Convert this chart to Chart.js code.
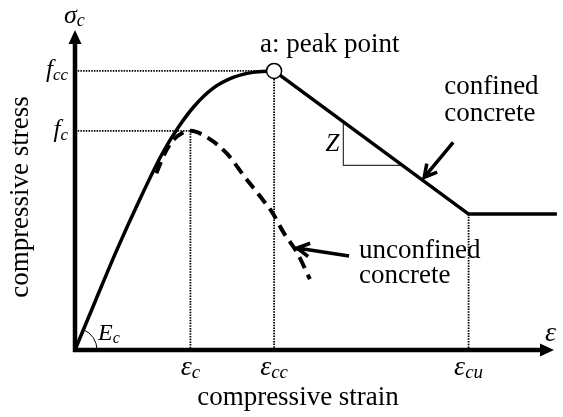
<!DOCTYPE html>
<html>
<head>
<meta charset="utf-8">
<script src="https://cdn.jsdelivr.net/npm/chart.js@4.4.1/dist/chart.umd.min.js"></script>
<style>
  body { margin: 0; background: #fff; }
  canvas { display: block; }
</style>
</head>
<body>
<canvas id="stressStrain" width="563" height="417"></canvas>
<script>
// characteristic points (strain, stress in MPa)
var epsC = 0.002, epsCC = 0.00345, epsCU = 0.00682;
var fc = 30, fcc = 38.2, fRes = 18.6;

// confined concrete, rising branch up to the peak
var confinedStrain = [0, 0.00036, 0.00072, 0.00111, 0.00152, 0.0018, 0.00207, 0.00239, 0.00274, 0.00308, epsCC];
var confinedStress = [0, 6.85, 13.6, 20.4, 27.0, 30.6, 33.4, 35.8, 37.3, 38.0, fcc];

// confined concrete, linear softening then residual plateau
var softStrain = [epsCC, epsCU, 0.00835];
var softStress = [fcc, fRes, fRes];

// unconfined concrete
var unconfStrain = [0.00141, 0.00156, 0.00171, 0.00186, epsC, 0.00231, 0.00263, 0.00294, 0.00321, 0.00342, 0.00362, 0.00385, 0.00407];
var unconfStress = [24.2, 27.0, 28.8, 29.7, fc, 29.0, 26.9, 23.7, 21.0, 18.8, 16.0, 13.3, 9.7];

// axis tick labels
var xTickValues = [epsC, epsCC, epsCU];
var xTickSubs = ['c', 'cc', 'cu'];
var yTickValues = [fcc, fc];
var yTickSubs = ['cc', 'c'];

function pts(xs, ys) {
  return xs.map(function (x, i) { return { x: x, y: ys[i] }; });
}

var SERIF = '"Liberation Serif", "Times New Roman", serif';

// italic symbol with a subscript; align = 'left' | 'center' | 'right'
function symbol(ctx, x, y, main, sub, size, align) {
  var subSize = Math.round(size * 0.68);
  ctx.font = 'italic ' + size + 'px ' + SERIF;
  var w1 = ctx.measureText(main).width;
  ctx.font = 'italic ' + subSize + 'px ' + SERIF;
  var w2 = ctx.measureText(sub).width;
  var x0 = x;
  if (align === 'center') x0 = x - (w1 + w2) / 2;
  if (align === 'right') x0 = x - (w1 + w2);
  ctx.textAlign = 'left';
  ctx.textBaseline = 'alphabetic';
  ctx.font = 'italic ' + size + 'px ' + SERIF;
  ctx.fillText(main, x0, y);
  ctx.font = 'italic ' + subSize + 'px ' + SERIF;
  ctx.fillText(sub, x0 + w1, y + size * 0.12);
}

function arrow(ctx, x1, y1, x2, y2) {
  var a = Math.atan2(y2 - y1, x2 - x1);
  var h = 14;
  ctx.beginPath();
  ctx.moveTo(x1, y1);
  ctx.lineTo(x2, y2);
  ctx.moveTo(x2 - h * Math.cos(a - 0.5), y2 - h * Math.sin(a - 0.5));
  ctx.lineTo(x2, y2);
  ctx.lineTo(x2 - h * Math.cos(a + 0.5), y2 - h * Math.sin(a + 0.5));
  ctx.stroke();
}

// stress on the softening branch at a given strain
function softAt(x) {
  return fcc + (fRes - fcc) * (x - epsCC) / (epsCU - epsCC);
}

var guides = {
  id: 'guides',
  beforeDatasetsDraw: function (chart) {
    var ctx = chart.ctx, xs = chart.scales.x, ys = chart.scales.y;
    var x0 = xs.getPixelForValue(0), y0 = ys.getPixelForValue(0);
    ctx.save();
    ctx.strokeStyle = '#000';

    // dotted projection lines
    ctx.lineWidth = 1.8;
    ctx.setLineDash([1.5, 1.2]);
    ctx.beginPath();
    ctx.moveTo(x0, ys.getPixelForValue(fcc));
    ctx.lineTo(xs.getPixelForValue(epsCC), ys.getPixelForValue(fcc));
    ctx.moveTo(x0, ys.getPixelForValue(fc));
    ctx.lineTo(xs.getPixelForValue(epsC), ys.getPixelForValue(fc));
    ctx.moveTo(xs.getPixelForValue(epsC), ys.getPixelForValue(fc));
    ctx.lineTo(xs.getPixelForValue(epsC), y0);
    ctx.moveTo(xs.getPixelForValue(epsCC), ys.getPixelForValue(fcc));
    ctx.lineTo(xs.getPixelForValue(epsCC), y0);
    ctx.moveTo(xs.getPixelForValue(epsCU), ys.getPixelForValue(fRes));
    ctx.lineTo(xs.getPixelForValue(epsCU), y0);
    ctx.stroke();
    ctx.setLineDash([]);

    // slope triangle under the softening branch
    var za = 0.00465, zb = 0.005675;
    var zx1 = xs.getPixelForValue(za), zx2 = xs.getPixelForValue(zb);
    var zy1 = ys.getPixelForValue(softAt(za)), zy2 = ys.getPixelForValue(softAt(zb));
    ctx.lineWidth = 1.2;
    ctx.strokeStyle = '#333';
    ctx.beginPath();
    ctx.moveTo(zx1, zy1);
    ctx.lineTo(zx1, zy2);
    ctx.lineTo(zx2, zy2);
    ctx.stroke();

    // initial modulus arc
    var ang = Math.atan2(ys.getPixelForValue(confinedStress[2]) - y0, xs.getPixelForValue(confinedStrain[2]) - x0);
    ctx.strokeStyle = '#000';
    ctx.lineWidth = 1;
    ctx.beginPath();
    ctx.arc(x0, y0, 22, ang, 0);
    ctx.stroke();

    // axes with arrow heads
    var xEnd = xs.getPixelForValue(xs.max), yEnd = ys.getPixelForValue(ys.max);
    ctx.lineWidth = 4.5;
    ctx.beginPath();
    ctx.moveTo(x0, y0 + 2);
    ctx.lineTo(x0, yEnd + 10);
    ctx.moveTo(x0 - 2, y0);
    ctx.lineTo(xEnd - 10, y0);
    ctx.stroke();
    ctx.fillStyle = '#000';
    ctx.beginPath();
    ctx.moveTo(x0, yEnd);
    ctx.lineTo(x0 - 6.5, yEnd + 14);
    ctx.lineTo(x0 + 6.5, yEnd + 14);
    ctx.closePath();
    ctx.fill();
    ctx.beginPath();
    ctx.moveTo(xEnd, y0);
    ctx.lineTo(xEnd - 14, y0 - 6.5);
    ctx.lineTo(xEnd - 14, y0 + 6.5);
    ctx.closePath();
    ctx.fill();
    ctx.restore();
  },
  afterDatasetsDraw: function (chart) {
    var ctx = chart.ctx, xs = chart.scales.x, ys = chart.scales.y;
    var x0 = xs.getPixelForValue(0), y0 = ys.getPixelForValue(0);
    ctx.save();
    ctx.fillStyle = '#000';
    ctx.strokeStyle = '#000';

    // tick symbols
    xTickValues.forEach(function (v, i) {
      symbol(ctx, xs.getPixelForValue(v), y0 + 25, '\u03b5', xTickSubs[i], 28, 'center');
    });
    yTickValues.forEach(function (v, i) {
      symbol(ctx, x0 - 7, ys.getPixelForValue(v) + 6, 'f', yTickSubs[i], 25, 'right');
    });
    symbol(ctx, x0 - 11, ys.getPixelForValue(ys.max) - 7, '\u03c3', 'c', 26, 'left');
    ctx.font = 'italic 28px ' + SERIF;
    ctx.textAlign = 'left';
    ctx.fillText('\u03b5', xs.getPixelForValue(xs.max) - 9, y0 - 9);
    symbol(ctx, x0 + 23, y0 - 10, 'E', 'c', 24, 'left');

    ctx.font = 'italic 25px ' + SERIF;
    ctx.textAlign = 'right';
    var zx = xs.getPixelForValue(0.00465);
    ctx.fillText('Z', zx - 4, ys.getPixelForValue(softAt(0.00465)) + 29);

    // axis titles
    ctx.font = '27px ' + SERIF;
    ctx.textAlign = 'center';
    ctx.fillText('compressive strain', 298, 405);
    ctx.save();
    ctx.translate(28, 197);
    ctx.rotate(-Math.PI / 2);
    ctx.fillText('compressive stress', 0, 0);
    ctx.restore();

    // annotations
    var px = xs.getPixelForValue(epsCC), py = ys.getPixelForValue(fcc);
    ctx.textAlign = 'left';
    ctx.fillText('a: peak point', px - 14, py - 19);

    ctx.lineWidth = 3.5;
    var cx = xs.getPixelForValue(0.00605), cy = ys.getPixelForValue(softAt(0.00605)) - 4;
    arrow(ctx, cx + 29, cy - 35, cx, cy);
    ctx.fillText('confined', cx + 20, cy - 83);
    ctx.fillText('concrete', cx + 20, cy - 56);

    var ux = xs.getPixelForValue(0.003847), uy = ys.getPixelForValue(13.96);
    arrow(ctx, ux + 52, uy + 8, ux, uy);
    ctx.fillText('unconfined', ux + 62, uy + 10);
    ctx.fillText('concrete', ux + 62, uy + 35);
    ctx.restore();
  }
};

new Chart(document.getElementById('stressStrain'), {
  type: 'scatter',
  data: {
    datasets: [
      {
        data: [{ x: epsCC, y: fcc }],
        pointRadius: 7.5,
        pointBackgroundColor: '#fff',
        pointBorderColor: '#000',
        pointBorderWidth: 1.5,
        showLine: false
      },
      {
        data: pts(confinedStrain, confinedStress),
        showLine: true,
        borderColor: '#000',
        borderWidth: 3.5,
        pointRadius: 0,
        cubicInterpolationMode: 'monotone'
      },
      {
        data: pts(softStrain, softStress),
        showLine: true,
        borderColor: '#000',
        borderWidth: 3.5,
        pointRadius: 0,
        tension: 0,
        clip: false
      },
      {
        data: pts(unconfStrain, unconfStress),
        showLine: true,
        borderColor: '#000',
        borderWidth: 4,
        borderDash: [12, 7],
        pointRadius: 0,
        cubicInterpolationMode: 'monotone'
      }
    ]
  },
  options: {
    responsive: false,
    animation: false,
    layout: { padding: { left: 75, top: 30, right: 2.5, bottom: 67 } },
    plugins: { legend: { display: false }, tooltip: { enabled: false } },
    scales: {
      x: { type: 'linear', min: 0, max: 0.0083, display: false },
      y: { type: 'linear', min: 0, max: 43.8, display: false }
    }
  },
  plugins: [guides]
});
</script>
</body>
</html>
